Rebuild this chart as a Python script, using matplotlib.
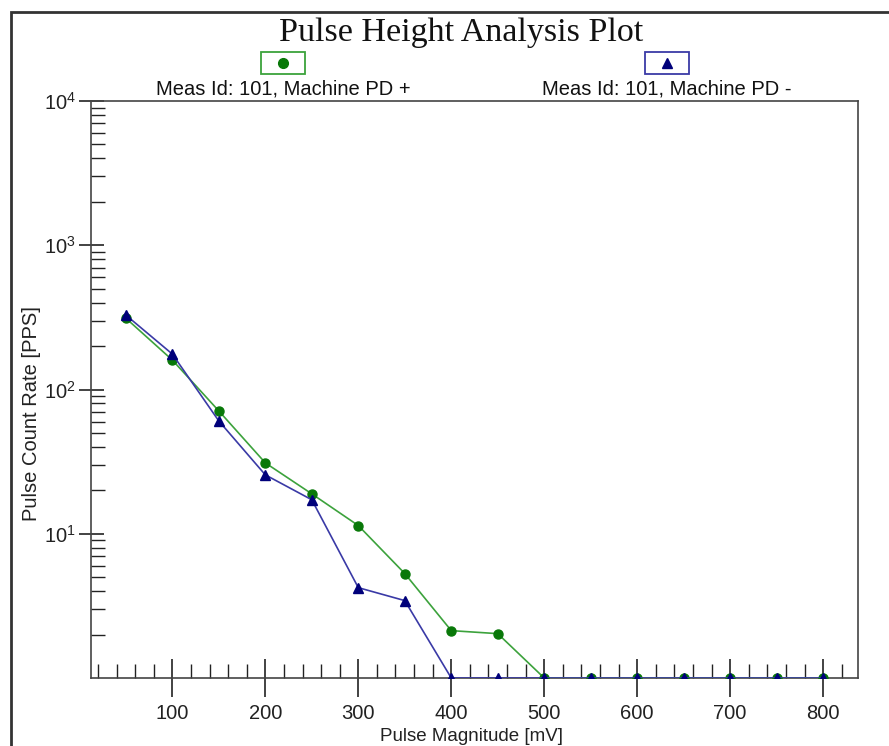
import matplotlib
matplotlib.use("Agg")
import matplotlib.pyplot as plt
import numpy as np
from matplotlib.patches import Rectangle
from matplotlib.lines import Line2D

plt.rcParams["font.family"] = ["Liberation Sans", "DejaVu Sans"]
plt.rcParams["mathtext.fontset"] = "custom"
plt.rcParams["mathtext.rm"] = "Liberation Sans"
plt.rcParams["mathtext.it"] = "Liberation Sans:italic"
plt.rcParams["mathtext.bf"] = "Liberation Sans:bold"

# pulse magnitude [mV]
mag = [50, 100, 150, 200, 250, 300, 350, 400, 450, 500, 550, 600, 650, 700, 750, 800]
# count rates [PPS], values at the floor are drawn on the axis (1 PPS)
pd_plus = [312, 160, 71, 31, 18.9, 11.4, 5.3, 2.13, 2.03, 1, 1, 1, 1, 1, 1, 1]
pd_minus = [328, 176, 60.5, 25.6, 17.2, 4.23, 3.44, 1, 1, 1, 1, 1, 1, 1, 1, 1]

labels = ["Meas Id: 101, Machine PD +", "Meas Id: 101, Machine PD -"]
xticks = [100, 200, 300, 400, 500, 600, 700, 800]

green_line = "#3ca23c"
green_mark = "#087808"
blue_line = "#3a3aa6"
blue_mark = "#00007a"

W, H = 889, 746
fig = plt.figure(figsize=(W / 100, H / 100), dpi=100)
ax = fig.add_axes([91 / W, 1 - 678 / H, (858 - 91) / W, (678 - 101) / H])

ax.plot(mag, pd_plus, color=green_line, lw=1.2, marker="o", ms=6.5,
        mfc=green_mark, mec=green_mark, zorder=3)
ax.plot(mag, pd_minus, color=blue_line, lw=1.2, marker="^", ms=6.5,
        mfc=blue_mark, mec=blue_mark, zorder=3)

ax.set_yscale("log")
ax.set_ylim(1, 1e4)
ax.set_xlim(12.5, 837.5)
ax.set_yticks([10, 100, 1000, 10000])
ax.set_yticklabels(["$10^{1}$", "$10^{2}$", "$10^{3}$", "$10^{4}$"])
ax.set_yticks([m * 10 ** d for d in range(0, 4) for m in range(2, 10)], minor=True)
ax.set_yticklabels([], minor=True)
ax.set_xticks(xticks)
ax.set_xticks(np.arange(20, 837, 20), minor=True)
ax.set_xticklabels([str(t) for t in xticks])

ax.tick_params(axis="x", which="major", direction="inout", length=28, width=1.2,
               labelsize=14.5, pad=5, colors="#222222")
ax.tick_params(axis="x", which="minor", direction="in", length=10, width=1.0,
               color="#222222")
ax.tick_params(axis="y", which="major", direction="inout", length=18, width=1.2,
               labelsize=14.5, pad=2, colors="#222222")
ax.tick_params(axis="y", which="minor", direction="in", length=10, width=1.0,
               color="#222222")
for s in ax.spines.values():
    s.set_color("#444444")
    s.set_linewidth(1.2)

fig.text(32 / W, 1 - 414 / H, "Pulse Count Rate [PPS]", rotation=90, ha="center",
         va="center", fontsize=14.5, color="#222222")
fig.text(472 / W, 1 - 745 / H, "Pulse Magnitude [mV]", ha="center", va="bottom",
         fontsize=13.5, color="#222222")
fig.text(461 / W, 1 - 33 / H, "Pulse Height Analysis Plot", ha="center", va="center",
         fontsize=24.5, family="Liberation Serif", color="#111111")

# legend: boxed marker above each label
legend_items = [(283, green_line, green_mark, "o", labels[0]),
                (667, blue_line, blue_mark, "^", labels[1])]
for cx, ec, mc, mk, lab in legend_items:
    fig.patches.append(Rectangle(((cx - 22) / W, 1 - 74 / H), 44 / W, 22 / H,
                                 transform=fig.transFigure, fill=False,
                                 edgecolor=ec, lw=1.3))
    fig.lines.append(Line2D([cx / W], [1 - 63 / H], transform=fig.transFigure,
                            marker=mk, ms=7, mfc=mc, mec=mc, ls="none"))
    fig.text(cx / W, 1 - 89 / H, lab, ha="center", va="center", fontsize=14.5,
             color="#111111")

# outer frame running off the right and bottom edges
fig.patches.append(Rectangle((11 / W, -0.1), 1.2, 1 - 12 / H + 0.1,
                             transform=fig.transFigure, fill=False,
                             edgecolor="#333333", lw=2))

fig.savefig("out.png", dpi=100)
